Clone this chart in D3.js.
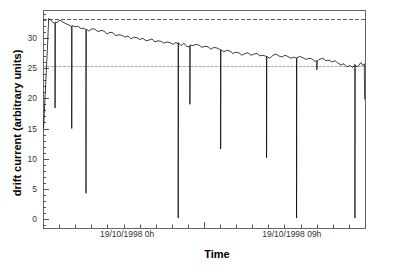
<!DOCTYPE html>
<html>
<head>
<meta charset="utf-8">
<script src="https://cdn.jsdelivr.net/npm/d3@7"></script>
<style>
    body { margin: 0; background: #fff; }
    svg text { font-family: "Liberation Sans", Arial, sans-serif; }
    .tick-label { font-size: 8.5px; fill: #333; }
    .title { font-size: 11px; font-weight: bold; fill: #000; }
</style>
</head>
<body>
<div class="graph"></div>

<script>

    // hours relative to 19/10/1998 0h, spikes written as base -> dip -> base
    const hours = [
        -4.57, -4.34, -4.29, -4.16,
        -3.94, -3.94, -3.93,
        -3.83, -3.67, -3.51, -3.34, -3.18,
        -3.03, -3.03, -3.02,
        -2.85, -2.69, -2.52, -2.36,
        -2.25, -2.25, -2.24,
        -2.09, -1.92, -1.76, -1.59, -1.43, -1.27, -1.10, -0.94, -0.77, -0.61,
        -0.45, -0.28, -0.12, 0.05, 0.21, 0.37, 0.54, 0.70, 0.86, 1.03, 1.19,
        1.36, 1.52, 1.68, 1.85, 2.01, 2.17, 2.34, 2.50, 2.66,
        2.79, 2.79, 2.80,
        2.94, 3.10, 3.27,
        3.43, 3.43, 3.44,
        3.60, 3.76, 3.92, 4.09, 4.25, 4.42, 4.58, 4.74, 4.91,
        5.11, 5.11, 5.12,
        5.29, 5.45, 5.62, 5.78, 5.95, 6.11, 6.27, 6.44, 6.60, 6.77, 6.93,
        7.10, 7.26, 7.42,
        7.62, 7.62, 7.63,
        7.80, 7.97, 8.13, 8.29, 8.46, 8.62, 8.79, 8.95, 9.11,
        9.26, 9.26, 9.27,
        9.44, 9.61, 9.77, 9.93, 10.10, 10.26,
        10.37, 10.37, 10.38,
        10.48, 10.70, 10.86, 11.03, 11.19, 11.36, 11.52, 11.68, 11.85, 12.01,
        12.17, 12.34,
        12.45, 12.45, 12.46,
        12.61, 12.77, 12.88, 12.96,
        12.98
    ];

    const current = [
        15.0, 29.5, 33.2, 32.8,
        32.3, 18.4, 32.6,
        32.5, 32.9, 32.6, 32.3, 32.1,
        31.8, 15.0, 32.0,
        31.8, 31.9, 31.5, 31.6,
        31.2, 4.3, 31.4,
        31.1, 31.5, 31.4, 31.0, 31.2, 31.1, 30.6, 30.9, 30.8, 30.3,
        30.5, 30.4, 30.1, 30.3, 29.8, 30.1, 30.0, 29.7, 29.9, 29.5, 29.6,
        29.8, 29.3, 29.5, 29.4, 29.1, 29.3, 29.2, 28.9, 29.2,
        29.0, 0.2, 29.2,
        28.7, 29.1, 28.5,
        28.6, 19.0, 28.8,
        28.7, 28.9, 28.8, 28.4, 28.6, 28.5, 28.1, 28.4, 28.3,
        28.0, 11.6, 28.0,
        27.7, 27.9, 27.8, 27.4, 27.6, 27.5, 27.1, 27.4, 27.5, 27.1, 27.3,
        27.4, 27.0, 27.1,
        26.9, 10.2, 26.9,
        26.6, 27.1, 27.3, 27.0, 26.8, 27.1, 26.9, 26.6, 26.8,
        26.6, 0.2, 26.7,
        26.9, 26.7, 26.4, 26.6, 26.5, 26.1,
        26.2, 24.7, 26.1,
        26.4, 26.6, 26.2, 26.3, 26.0, 26.2, 25.8, 25.5, 25.7, 25.2,
        25.4, 25.1,
        25.6, 0.2, 25.4,
        25.2, 25.9, 25.4, 25.7,
        19.8
    ];

    const refLevels = [33.1, 25.3];
    const yTickValues = [0, 5, 10, 15, 20, 25, 30];
    const timeLabels = [
        {hour: 0, text: "19/10/1998 0h"},
        {hour: 9, text: "19/10/1998 09h"}
    ];

    (function () {
        const width = 393;
        const height = 277;
        const left = 43, right = 365, top = 10, bottom = 228;

        const svg = d3.select(".graph").append("svg")
            .attr("width", width)
            .attr("height", height);

        const x = d3.scaleLinear().domain([-4.6, 13.0]).range([left, right]);
        const y = d3.scaleLinear().domain([-1.44, 34.58]).range([bottom, top]);

        // frame
        svg.append("rect")
            .attr("x", left + 0.5)
            .attr("y", top + 0.5)
            .attr("width", right - left)
            .attr("height", bottom - top)
            .attr("fill", "none")
            .attr("stroke", "#666")
            .attr("stroke-width", 1);

        // y ticks point inward, major every 5
        const yMinor = d3.range(-1, 35, 1);
        svg.append("g").selectAll("line")
            .data(yMinor)
            .enter().append("line")
            .attr("x1", left)
            .attr("x2", function (d) {
                return left + (d % 5 === 0 ? 6 : 3);
            })
            .attr("y1", function (d) { return Math.round(y(d)) + 0.5; })
            .attr("y2", function (d) { return Math.round(y(d)) + 0.5; })
            .attr("stroke", "#555")
            .attr("stroke-width", 1);

        svg.append("g").selectAll("text")
            .data(yTickValues)
            .enter().append("text")
            .attr("class", "tick-label")
            .attr("x", left - 6)
            .attr("y", function (d) { return y(d) + 3; })
            .attr("text-anchor", "end")
            .text(function (d) { return d; });

        // x ticks: 20 divisions across the frame
        const xTicks = d3.range(0, 21).map(function (i) {
            return -4.6 + i * 0.88;
        });
        svg.append("g").selectAll("line")
            .data(xTicks)
            .enter().append("line")
            .attr("x1", function (d) { return Math.round(x(d)) + 0.5; })
            .attr("x2", function (d) { return Math.round(x(d)) + 0.5; })
            .attr("y1", bottom)
            .attr("y2", function (d, i) {
                return bottom - (i === 10 ? 6 : 3.5);
            })
            .attr("stroke", "#555")
            .attr("stroke-width", 1);

        svg.append("g").selectAll("text")
            .data(timeLabels)
            .enter().append("text")
            .attr("class", "tick-label")
            .attr("x", function (d) { return x(d.hour); })
            .attr("y", bottom + 9)
            .attr("text-anchor", "middle")
            .text(function (d) { return d.text; });

        // reference levels
        svg.append("g").selectAll("line")
            .data(refLevels)
            .enter().append("line")
            .attr("x1", left)
            .attr("x2", right)
            .attr("y1", function (d) { return Math.round(y(d)) + 0.5; })
            .attr("y2", function (d) { return Math.round(y(d)) + 0.5; })
            .attr("stroke", function (d, i) { return i === 0 ? "#333" : "#999"; })
            .attr("stroke-width", 0.8)
            .attr("stroke-dasharray", function (d, i) { return i === 0 ? "4,2" : "3,1"; });

        const points = hours.map(function (h, i) {
            return [h, current[i]];
        });

        const line = d3.line()
            .x(function (d) { return x(d[0]); })
            .y(function (d) { return y(d[1]); });

        svg.append("path")
            .datum(points)
            .attr("d", line)
            .attr("fill", "none")
            .attr("stroke", "#000")
            .attr("stroke-width", 0.75)
            .attr("stroke-linejoin", "miter");

        // axis titles
        svg.append("text")
            .attr("class", "title")
            .attr("x", 217)
            .attr("y", 258)
            .attr("text-anchor", "middle")
            .text("Time");

        svg.append("text")
            .attr("class", "title")
            .attr("transform", "translate(20.5," + 123 + ") rotate(-90)")
            .attr("text-anchor", "middle")
            .text("drift current (arbitrary units)");
    })()
</script>
</body>
</html>
